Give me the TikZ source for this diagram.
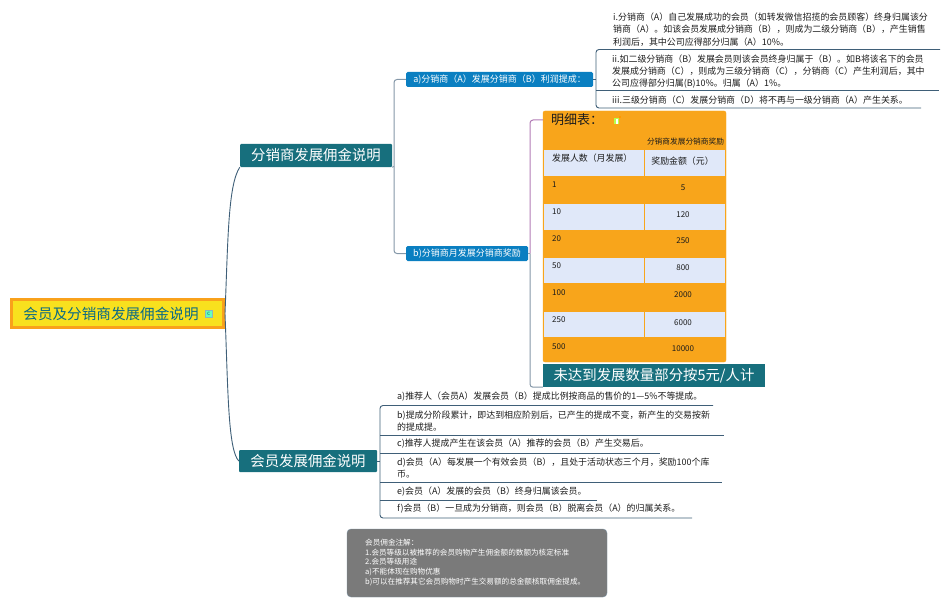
\documentclass[tikz,border=0pt]{standalone}
\usepackage{fontspec}
\setmainfont{Noto Sans CJK SC}
\usetikzlibrary{calc}
\definecolor{tealbox}{HTML}{176F7D}
\definecolor{bluebox}{HTML}{0A7FC1}
\definecolor{orangebox}{HTML}{F8A51B}
\definecolor{lightrow}{HTML}{E0E8F9}
\definecolor{graybranch}{HTML}{8497A8}
\definecolor{darkbranch}{HTML}{3F5F78}
\definecolor{purplebranch}{HTML}{B27CB6}
\definecolor{notebox}{HTML}{7A7A7A}
\definecolor{itemtext}{HTML}{1C1C1C}
\definecolor{rootfill}{HTML}{F8E11E}
\definecolor{rootedge}{HTML}{F9A11B}
\definecolor{roottext}{HTML}{0B6A85}
\tikzset{
	rootbox/.style={draw=rootedge, line width=3pt, fill=rootfill, text=roottext, minimum width=212pt, minimum height=28pt, inner sep=0pt, font=\fontsize{14.6}{18}\selectfont},
	distbox/.style={fill=tealbox, text=white, rounded corners=1pt, inner sep=0pt, font=\fontsize{14.4}{17}\selectfont},
	subbox/.style={fill=bluebox, text=white, rounded corners=1.5pt, inner sep=0pt, font=\fontsize{9}{12}\selectfont},
	itemtxt/.style={anchor=west, align=left, inner sep=0pt, text=itemtext, font=\fontsize{8.95}{12.2}\selectfont},
	notetxt/.style={anchor=west, align=left, inner sep=0pt, text=white, font=\fontsize{7.6}{9.8}\selectfont},
	celltxt/.style={inner sep=0pt, text=itemtext, font=\fontsize{8.9}{11}\selectfont},
	numtxt/.style={inner sep=0pt, text=itemtext, font=\fontsize{8}{10}\selectfont},
	mainline/.style={color=darkbranch, line width=0.9pt},
	branchline/.style={color=graybranch, line width=1pt, rounded corners=3pt},
	itemline/.style={color=darkbranch, line width=0.9pt, rounded corners=3pt}
}

\begin{document}
\begin{tikzpicture}[x=1pt, y=-1pt]
	%%%%% START %%%%%
	\useasboundingbox (0, 0) rectangle (950, 607);

	%% left side
	\node[rootbox] (root) at (117.5, 313.5) {会员及分销商发展佣金说明\kern13pt};
	\node[fill=green!45!cyan!60, draw=tealbox!50, text=tealbox, inner sep=0pt, minimum size=7pt, font=\fontsize{6}{6}\selectfont] (rooticon) at (208.7, 314) {c};

	\node[distbox, minimum width=152pt, minimum height=23pt] (distA) at (316, 155.5) {分销商发展佣金说明};
	\node[distbox, minimum width=138pt, minimum height=22pt] (distB) at (308, 461) {会员发展佣金说明};

	\draw[mainline] (root.east) .. controls (228, 240) and (228, 185) .. (distA.south west);
	\draw[mainline] (root.east) .. controls (228, 390) and (228, 450) .. (distB.west);

	%% commission of distributors
	\node[subbox, minimum width=187pt, minimum height=15pt] (subA) at (499.5, 79.5) {a)分销商（A）发展分销商（B）利润提成：};
	\node[subbox, minimum width=122pt, minimum height=15pt] (subB) at (467, 253.5) {b)分销商月发展分销商奖励};

	\coordinate (turnA) at (394, 166.5);
	\draw[branchline] (subA.west) -| (turnA) |- (subB.west);
	\draw[branchline] (distA.south east) -- (turnA);

	\node[itemtxt] (itemI) at (613, 29.5) {i.分销商（A）自己发展成功的会员（如转发微信招揽的会员顾客）终身归属该分\\销商（A）。如该会员发展成分销商（B），则成为二级分销商（B），产生销售\\利润后，其中公司应得部分归属（A）10\%。};
	\node[itemtxt] (itemII) at (612, 71.5) {ii.如二级分销商（B）发展会员则该会员终身归属于（B）。如B将该名下的会员\\发展成分销商（C），则成为三级分销商（C），分销商（C）产生利润后，其中\\公司应得部分归属(B)10\%。归属（A）1\%。};
	\node[itemtxt] (itemIII) at (612, 100) {iii.三级分销商（C）发展分销商（D）将不再与一级分销商（A）产生关系。};

	\coordinate (lineI) at (940, 49.5);
	\coordinate (lineII) at (939, 90);
	\coordinate (lineIII) at (921, 108);
	\draw[itemline] (lineI) -| (596, 79.5) |- (lineIII);
	\draw[itemline] (subA.east) -- (596, 79.5);
	\draw[itemline] (596, 90) -- (lineII);

	%% table
	\draw[fill=orangebox, draw=orangebox, rounded corners=2pt] (543, 111) rectangle (726, 362);
	\draw[fill=lightrow, draw=none] (544, 150) rectangle (644, 176);
	\draw[fill=lightrow, draw=none] (645, 150) rectangle (725, 176);
	\draw[fill=lightrow, draw=none] (544, 204) rectangle (644, 229.5);
	\draw[fill=lightrow, draw=none] (645, 204) rectangle (725, 229.5);
	\draw[fill=lightrow, draw=none] (544, 258) rectangle (644, 283);
	\draw[fill=lightrow, draw=none] (645, 258) rectangle (725, 283);
	\draw[fill=lightrow, draw=none] (544, 312) rectangle (644, 337);
	\draw[fill=lightrow, draw=none] (645, 312) rectangle (725, 337);

	\node[celltxt, anchor=west, font=\fontsize{13}{15}\selectfont] (tabletitle) at (551, 120) {明细表：};
	\draw[fill=green!40!yellow!70, draw=none] (614, 118) rectangle (619, 124);
	\draw[fill=white, draw=none] (616, 119) rectangle (618, 124);
	\draw[fill=orange!80!yellow, draw=none] (619, 116.5) rectangle (621, 118.5);

	\node[celltxt, font=\fontsize{7.7}{9}\selectfont] (headall) at (685.5, 142) {分销商发展分销商奖励};
	\node[celltxt, anchor=west] (headA) at (552, 158) {发展人数（月发展）};
	\node[celltxt] (headB) at (682.5, 161) {奖励金额（元）};

	\node[numtxt, anchor=west] (cntA) at (552, 185) {1};
	\node[numtxt, anchor=west] (cntB) at (552, 212) {10};
	\node[numtxt, anchor=west] (cntC) at (552, 239) {20};
	\node[numtxt, anchor=west] (cntD) at (552, 266) {50};
	\node[numtxt, anchor=west] (cntE) at (552, 293) {100};
	\node[numtxt, anchor=west] (cntF) at (552, 320) {250};
	\node[numtxt, anchor=west] (cntG) at (552, 347) {500};

	\node[numtxt] (sumA) at (683, 188) {5};
	\node[numtxt] (sumB) at (683, 214.5) {120};
	\node[numtxt] (sumC) at (683, 241) {250};
	\node[numtxt] (sumD) at (683, 268) {800};
	\node[numtxt] (sumE) at (683, 295) {2000};
	\node[numtxt] (sumF) at (683, 322.5) {6000};
	\node[numtxt] (sumG) at (683, 349) {10000};

	\node[distbox, rounded corners=0pt, minimum width=222pt, minimum height=23pt] (banner) at (654, 375.5) {未达到发展数量部分按5元/人计};

	\coordinate (tableedge) at (543, 120);
	\draw[branchline, color=purplebranch] (tableedge) -| (530, 253.5);
	\draw[branchline] (530, 253.5) |- (banner.south west);
	\draw[branchline] (subB.east) -- (530, 253.5);

	%% commission of members
	\node[itemtxt] (memA) at (397, 397) {a)推荐人（会员A）发展会员（B）提成比例按商品的售价的1—5\%不等提成。};
	\node[itemtxt] (memB) at (397, 421) {b)提成分阶段累计，即达到相应阶别后，已产生的提成不变，新产生的交易按新\\的提成提。};
	\node[itemtxt] (memC) at (397, 444) {c)推荐人提成产生在该会员（A）推荐的会员（B）产生交易后。};
	\node[itemtxt] (memD) at (397, 468) {d)会员（A）每发展一个有效会员（B），且处于活动状态三个月，奖励100个库\\币。};
	\node[itemtxt] (memE) at (397, 492) {e)会员（A）发展的会员（B）终身归属该会员。};
	\node[itemtxt] (memF) at (397, 509) {f)会员（B）一旦成为分销商，则会员（B）脱离会员（A）的归属关系。};

	\coordinate (memlineA) at (713, 405.5);
	\coordinate (memlineB) at (724, 435);
	\coordinate (memlineC) at (660, 453);
	\coordinate (memlineD) at (722, 482);
	\coordinate (memlineE) at (597, 500);
	\coordinate (memlineF) at (692, 518);
	\draw[itemline] (memlineA) -| (380, 461) |- (memlineF);
	\draw[itemline] (distB.east) -- (380, 461);
	\draw[itemline] (380, 435) -- (memlineB);
	\draw[itemline] (380, 453) -- (memlineC);
	\draw[itemline] (380, 482) -- (memlineD);
	\draw[itemline] (380, 500) -- (memlineE);

	%% note
	\node[draw=darkbranch!70, fill=notebox, rounded corners=4pt, minimum width=260pt, minimum height=68pt, inner sep=0pt] (notepanel) at (477, 563) {};
	\node[notetxt] (notetext) at (365, 562.5) {会员佣金注解：\\1.会员等级以被推荐的会员购物产生佣金额的数额为核定标准\\2.会员等级用途\\a)不能体现在购物优惠\\b)可以在推荐其它会员购物时产生交易额的总金额核取佣金提成。};
	%%%%% END %%%%%
\end{tikzpicture}
\end{document}
